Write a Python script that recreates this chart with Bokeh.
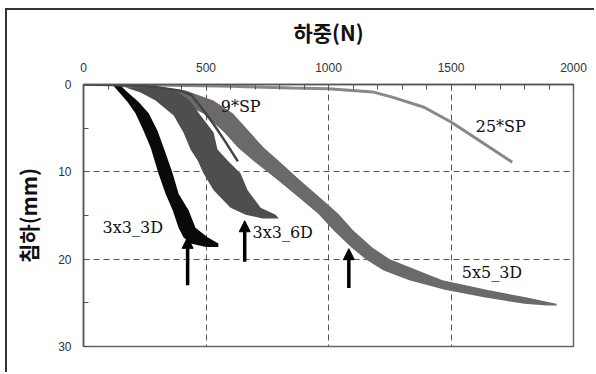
import math
from bokeh.plotting import figure
from bokeh.models import Range1d, Label, Arrow, NormalHead, SingleIntervalTicker
from bokeh.embed import file_html
from bokeh.resources import INLINE

# ---- data (load N, settlement mm) ----
# 3x3_3D : noisy band, left/right edges at given settlement
d33_y  = [0.1, 0.7, 2.0, 3.3, 5.3, 7.2, 10.2, 12.5, 14.4, 16.4, 17.5, 18.2, 18.6]
d33_xl = [120, 139, 180, 212, 245, 274, 306, 335, 364, 388, 408, 437, 500]
d33_xr = [150, 172, 225, 266, 302, 327, 364, 388, 429, 457, 506, 551, 550]

# 3x3_6D
d36_y  = [0.34, 0.92, 1.83, 3.55, 5.50, 7.45, 8.71, 10.2, 12.1, 14.1, 14.9, 15.35]
d36_xl = [172, 233, 294, 368, 408, 437, 466, 490, 531, 600, 662, 731]
d36_xr = [315, 388, 433, 478, 531, 547, 588, 641, 670, 723, 784, 797]

# 5x5_3D
d55_y  = [0.11, 0.69, 1.83, 3.32, 5.50, 7.22, 8.71, 11.0, 13.3, 14.8, 16.7, 18.7, 20.0, 21.3, 22.4, 23.5, 24.4, 25.1, 25.3]
d55_xl = [110, 274, 380, 490, 575, 630, 692, 795, 895, 958, 1020, 1095, 1152, 1225, 1330, 1475, 1640, 1800, 1890]
d55_xr = [274, 417, 530, 610, 680, 735, 795, 885, 980, 1040, 1100, 1180, 1250, 1365, 1465, 1645, 1810, 1930, 1932]

# 9*SP
sp9_x = [0, 150, 300, 400, 440, 480, 530, 580, 630]
sp9_y = [0, 0.05, 0.3, 0.75, 1.2, 2.6, 4.5, 6.6, 8.8]

# 25*SP
sp25_x = [0, 300, 600, 850, 1000, 1180, 1260, 1390, 1500, 1620, 1750]
sp25_y = [0, 0.05, 0.2, 0.4, 0.5, 0.85, 1.45, 2.6, 4.3, 6.5, 8.9]

# arrows: x, start y, tip y
arr_x  = [425, 658, 1083]
arr_y0 = [23.0, 20.3, 23.3]
arr_y1 = [17.5, 15.6, 18.8]

p = figure(width=589, height=364, output_backend="svg", toolbar_location=None,
           x_range=Range1d(0, 2000), y_range=Range1d(30, 0),
           x_axis_location="above", min_border_left=76, min_border_right=23,
           min_border_top=74, min_border_bottom=28)
p.styles = {"margin-left": "5px", "margin-top": "8px",
            "border-left": "2px solid #333333", "border-top": "2px solid #333333"}
p.background_fill_color = "white"
p.border_fill_color = "white"
p.outline_line_color = "#666666"
p.outline_line_width = 1.5

# axes
xa = p.xaxis[0]
xa.ticker = SingleIntervalTicker(interval=500, num_minor_ticks=5)
ya = p.yaxis[0]
ya.ticker = SingleIntervalTicker(interval=10, num_minor_ticks=2)
for ax in (xa, ya):
    ax.major_tick_in = 6
    ax.major_tick_out = 0
    ax.minor_tick_in = 5
    ax.minor_tick_out = 0
    ax.axis_line_color = "#555555"
    ax.axis_line_width = 1.5
    ax.major_tick_line_color = "#555555"
    ax.minor_tick_line_color = "#555555"
    ax.major_label_text_font = "Liberation Sans"
    ax.major_label_text_font_size = "12px"
    ax.major_label_text_color = "#333333"
    ax.axis_label_text_font = "Noto Sans CJK KR"
    ax.axis_label_text_font_size = "21px"
    ax.axis_label_text_font_style = "bold"
    ax.axis_label_text_color = "#111111"
xa.major_label_standoff = 13
ya.major_label_standoff = 12
xa.axis_label = "하중(N)"
ya.axis_label = "침하(mm)"
xa.axis_label_standoff = 13
ya.axis_label_standoff = 12

for g in (p.xgrid[0], p.ygrid[0]):
    g.grid_line_color = "#555555"
    g.grid_line_dash = "6 4"
    g.grid_line_width = 1

# curves
p.harea(y=d55_y, x1=d55_xl, x2=d55_xr, fill_color="#6a6a6a")
p.harea(y=d36_y, x1=d36_xl, x2=d36_xr, fill_color="#4e4e4e")
p.harea(y=d33_y, x1=d33_xl, x2=d33_xr, fill_color="#0a0a0a")
p.line(sp25_x, sp25_y, line_color="#888888", line_width=3)
p.line(sp9_x, sp9_y, line_color="#444444", line_width=2.5)

for x, y0, y1 in zip(arr_x, arr_y0, arr_y1):
    p.add_layout(Arrow(end=NormalHead(size=11, fill_color="black", line_color="black"),
                       x_start=x, y_start=y0, x_end=x, y_end=y1,
                       line_color="black", line_width=3.5))

lab_font = "DejaVu Serif"
for txt, x, y in [("9*SP", 560, 2.5), ("25*SP", 1601, 4.8), ("3x3_3D", 78, 16.4),
                  ("3x3_6D", 690, 17.0), ("5x5_3D", 1544, 21.5)]:
    p.add_layout(Label(x=x, y=y, text=txt, text_font=lab_font, text_font_size="16px",
                       text_baseline="middle", text_color="#111111"))

open("out.html", "w").write(file_html(p, INLINE))
